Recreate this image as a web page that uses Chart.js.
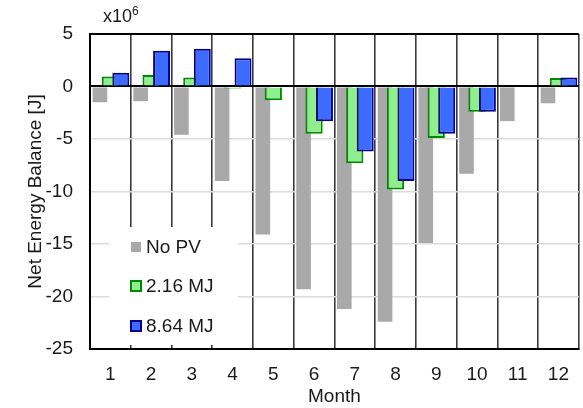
<!DOCTYPE html>
<html>
<head>
<meta charset="utf-8">
<script src="https://cdn.jsdelivr.net/npm/chart.js@4.4.0/dist/chart.umd.min.js"></script>
<style>
  html, body { margin: 0; padding: 0; background: #fff; }
  #wrap { width: 583px; height: 408px; }
</style>
</head>
<body>
<div id="wrap"><canvas id="balanceChart"></canvas></div>
<script>
// values in units of 10^6 J
const months = ['1', '2', '3', '4', '5', '6', '7', '8', '9', '10', '11', '12'];
const noPV   = [-1.5, -1.4, -4.6, -9.0, -14.1, -19.3, -21.2, -22.4, -14.9, -8.3, -3.3, -1.6];
const pv216  = [0.95, 1.1, 0.85, -0.2, -1.3, -4.5, -7.3, -9.8, -4.9, -2.4, 0.1, 0.8];
const pv864  = [1.3, 3.4, 3.6, 2.7, 0.1, -3.3, -6.2, -9.0, -4.5, -2.4, 0.05, 0.85];
const yMin = -25, yMax = 5, yStep = 5;

const FONT = "'Liberation Sans', Arial, sans-serif";
const textColor = '#1a1a1a';

// draw datasets first-to-last so later bars sit on top of earlier ones
const drawInOrder = {
  id: 'drawInOrder',
  beforeDatasetsDraw(chart) {
    const metas = chart.getSortedVisibleDatasetMetas().slice().sort((a, b) => a.index - b.index);
    metas.forEach(m => m.controller.draw());
    return false;
  }
};

const legendBox = {
  id: 'legendBox',
  afterDraw(chart) {
    const ctx = chart.ctx;
    ctx.save();
    ctx.fillStyle = '#fff';
    ctx.fillRect(109, 227, 129, 118);
    const rows = [
      { y: 247, size: 10 },
      { y: 286, size: 12 },
      { y: 326, size: 12 }
    ];
    chart.data.datasets.forEach((ds, i) => {
      const r = rows[i];
      const x = 136 - r.size / 2, y = r.y - r.size / 2;
      ctx.fillStyle = ds.backgroundColor;
      ctx.fillRect(x, y, r.size, r.size);
      if (ds.borderWidth) {
        ctx.strokeStyle = ds.borderColor;
        ctx.lineWidth = 2;
        ctx.strokeRect(x + 1, y + 1, r.size - 2, r.size - 2);
      }
      ctx.fillStyle = textColor;
      ctx.font = '19px ' + FONT;
      ctx.textBaseline = 'middle';
      ctx.textAlign = 'left';
      ctx.fillText(ds.label, 146, r.y + 1);
    });
    // multiplier label
    ctx.font = '18px ' + FONT;
    ctx.textBaseline = 'alphabetic';
    ctx.fillText('x10', 103, 22);
    const w = ctx.measureText('x10').width;
    ctx.font = '12px ' + FONT;
    ctx.fillText('6', 103 + w, 15);
    ctx.restore();
  }
};

new Chart(document.getElementById('balanceChart'), {
  type: 'bar',
  data: {
    labels: months,
    datasets: [
      { label: 'No PV', data: noPV, backgroundColor: '#a9a9a9', borderWidth: 0, barPercentage: 1.4 },
      { label: '2.16 MJ', data: pv216, backgroundColor: '#90ee90', borderColor: '#008a00', borderWidth: 2, barPercentage: 1.65 },
      { label: '8.64 MJ', data: pv864, backgroundColor: '#3d6bff', borderColor: '#00008b', borderWidth: 2, barPercentage: 1.62 }
    ]
  },
  options: {
    responsive: true,
    maintainAspectRatio: false,
    animation: false,
    layout: { padding: { top: 34, right: 0, left: 0, bottom: 0 } },
    datasets: { bar: { categoryPercentage: 0.77 } },
    plugins: {
      legend: { display: false },
      tooltip: { enabled: false }
    },
    scales: {
      x: {
        afterFit(scale) { scale.height = 59; },
        grid: { offset: true, color: '#3a3a3a', lineWidth: 1.6, drawTicks: false },
        border: { color: '#000', width: 2 },
        ticks: { color: textColor, font: { family: FONT, size: 19 }, padding: 14, maxRotation: 0 },
        title: { display: true, text: 'Month', color: textColor, font: { family: FONT, size: 19 }, padding: { top: 0, bottom: 0 } }
      },
      y: {
        min: yMin, max: yMax,
        afterFit(scale) { scale.width = 90; },
        grid: {
          drawTicks: false,
          color: c => (c.tick.value === 0 || c.tick.value === yMax) ? '#000' : '#dcdcdc',
          lineWidth: c => (c.tick.value === 0 || c.tick.value === yMax) ? 2 : 1.5
        },
        border: { color: '#000', width: 2 },
        ticks: { stepSize: yStep, color: textColor, font: { family: FONT, size: 19 }, padding: 17 },
        title: { display: true, text: 'Net Energy Balance [J]', color: textColor, font: { family: FONT, size: 19 }, padding: { top: 24, bottom: 0 } }
      }
    }
  },
  plugins: [drawInOrder, legendBox]
});
</script>
</body>
</html>
